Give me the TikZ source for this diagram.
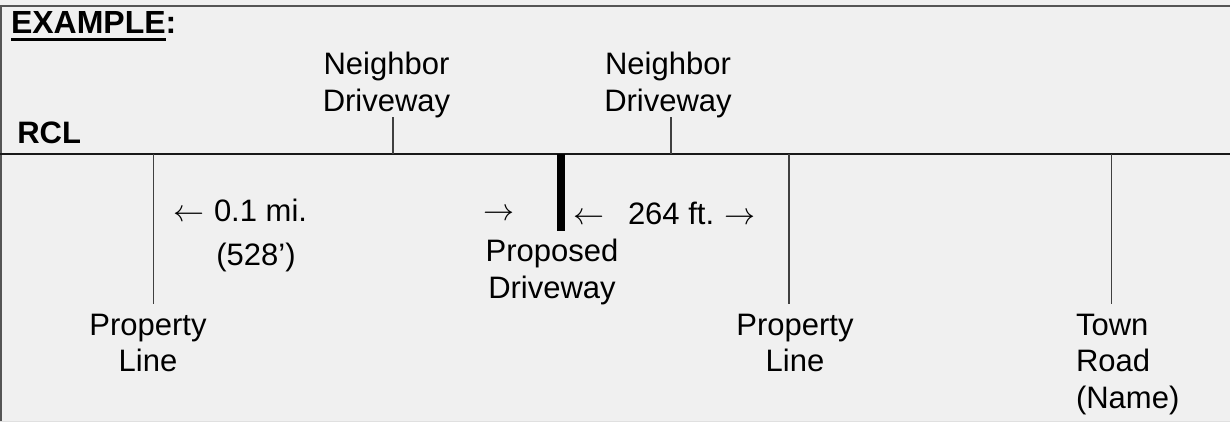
\RequirePackage{fix-cm}
\documentclass[tikz,border=0pt]{standalone}
\usepackage{fontspec}
\setmainfont{Liberation Sans}
\definecolor{bg}{HTML}{F0F0F0}
\definecolor{framec}{HTML}{555555}
\definecolor{tickc}{HTML}{404040}
\newcommand\stkc[1]{\begin{tabular}[t]{@{}c@{}}#1\end{tabular}}
\newcommand\stkl[1]{\begin{tabular}[t]{@{}l@{}}#1\end{tabular}}
\begin{document}
\begin{tikzpicture}[x=1pt,y=-1pt,
  lbl/.style={inner sep=0pt, outer sep=0pt, anchor=base, font=\fontsize{31}{36.5}\selectfont},
  boldlbl/.style={lbl, font=\fontsize{31}{36.5}\selectfont\bfseries},
  tick/.style={draw=tickc, line width=1.3pt},
  roadline/.style={draw=black!90, line width=2pt},
  framel/.style={draw=framec, line width=2pt},
  drivebar/.style={draw=black, line width=8pt}]
\useasboundingbox (0,0) rectangle (1230,422);
\fill[bg] (0,0) rectangle (1230,422);
% frame
\coordinate (ftl) at (0,6);
\coordinate (ftr) at (1230,6);
\coordinate (fl) at (1,6);
\coordinate (flb) at (1,422);
\coordinate (fbl) at (0,421.5);
\coordinate (fbr) at (1230,421.5);
\draw[framel] (ftl) -- (ftr);
\draw[framel] (fl) -- (flb);
\draw[black!12, line width=1pt] (fbl) -- (fbr);
% heading
\node[boldlbl, font=\fontsize{32}{36.5}\selectfont\bfseries, anchor=base west] (ex) at (11,33.5) {EXAMPLE};
\node[boldlbl, font=\fontsize{32}{36.5}\selectfont\bfseries, anchor=base west] (colon) at (ex.base east) {:};
\fill[black] ([yshift=-4.2pt]ex.base west) rectangle ([yshift=-7.8pt]ex.base east);
% road centre line
\coordinate (rclw) at (0,154.3);
\coordinate (rcle) at (1230,154.3);
\draw[roadline] (rclw) -- (rcle);
\node[boldlbl, anchor=base west] (rcl) at (17.3,143.3) {RCL};
% neighbor driveways
\node[lbl] (nd1) at (386.5,75) {\stkc{Neighbor\\Driveway}};
\node[lbl] (nd2) at (668,75) {\stkc{Neighbor\\Driveway}};
\coordinate (nd1t) at (393,117.3);
\coordinate (nd1b) at (393,154.3);
\coordinate (nd2t) at (671,117.3);
\coordinate (nd2b) at (671,154.3);
\draw[tick] (nd1t) -- (nd1b);
\draw[tick] (nd2t) -- (nd2b);
% property lines
\coordinate (pl1t) at (153.7,154.3);
\coordinate (pl1b) at (153.7,304);
\coordinate (pl2t) at (789,154.3);
\coordinate (pl2b) at (789,304);
\coordinate (trt) at (1111.7,154.3);
\coordinate (trb) at (1111.7,304);
\draw[tick] (pl1t) -- (pl1b);
\draw[tick] (pl2t) -- (pl2b);
\draw[tick] (trt) -- (trb);
\node[lbl] (pl1) at (148,335) {\stkc{Property\\Line}};
\node[lbl] (pl2) at (795,335) {\stkc{Property\\Line}};
\node[lbl, anchor=base west] (tr) at (1076,335) {\stkl{Town\\Road\\(Name)}};
% proposed driveway
\coordinate (pdt) at (561,154.3);
\coordinate (pdb) at (561,230.7);
\draw[drivebar] (pdt) -- (pdb);
\node[lbl] (pd) at (552,261.5) {\stkc{Proposed\\Driveway}};
% distances
\node[lbl, anchor=base west] (d1) at (173,221) {$\leftarrow$\hspace{10pt}0.1 mi.};
\node[lbl] (d1b) at (256,265) {(528’)};
\node[lbl, anchor=base west] (d1r) at (483,220) {$\rightarrow$};
\node[lbl, anchor=base west] (d2) at (573,224) {$\leftarrow$\hspace{24pt}264 ft.\hspace{10pt}$\rightarrow$};
\end{tikzpicture}
\end{document}
